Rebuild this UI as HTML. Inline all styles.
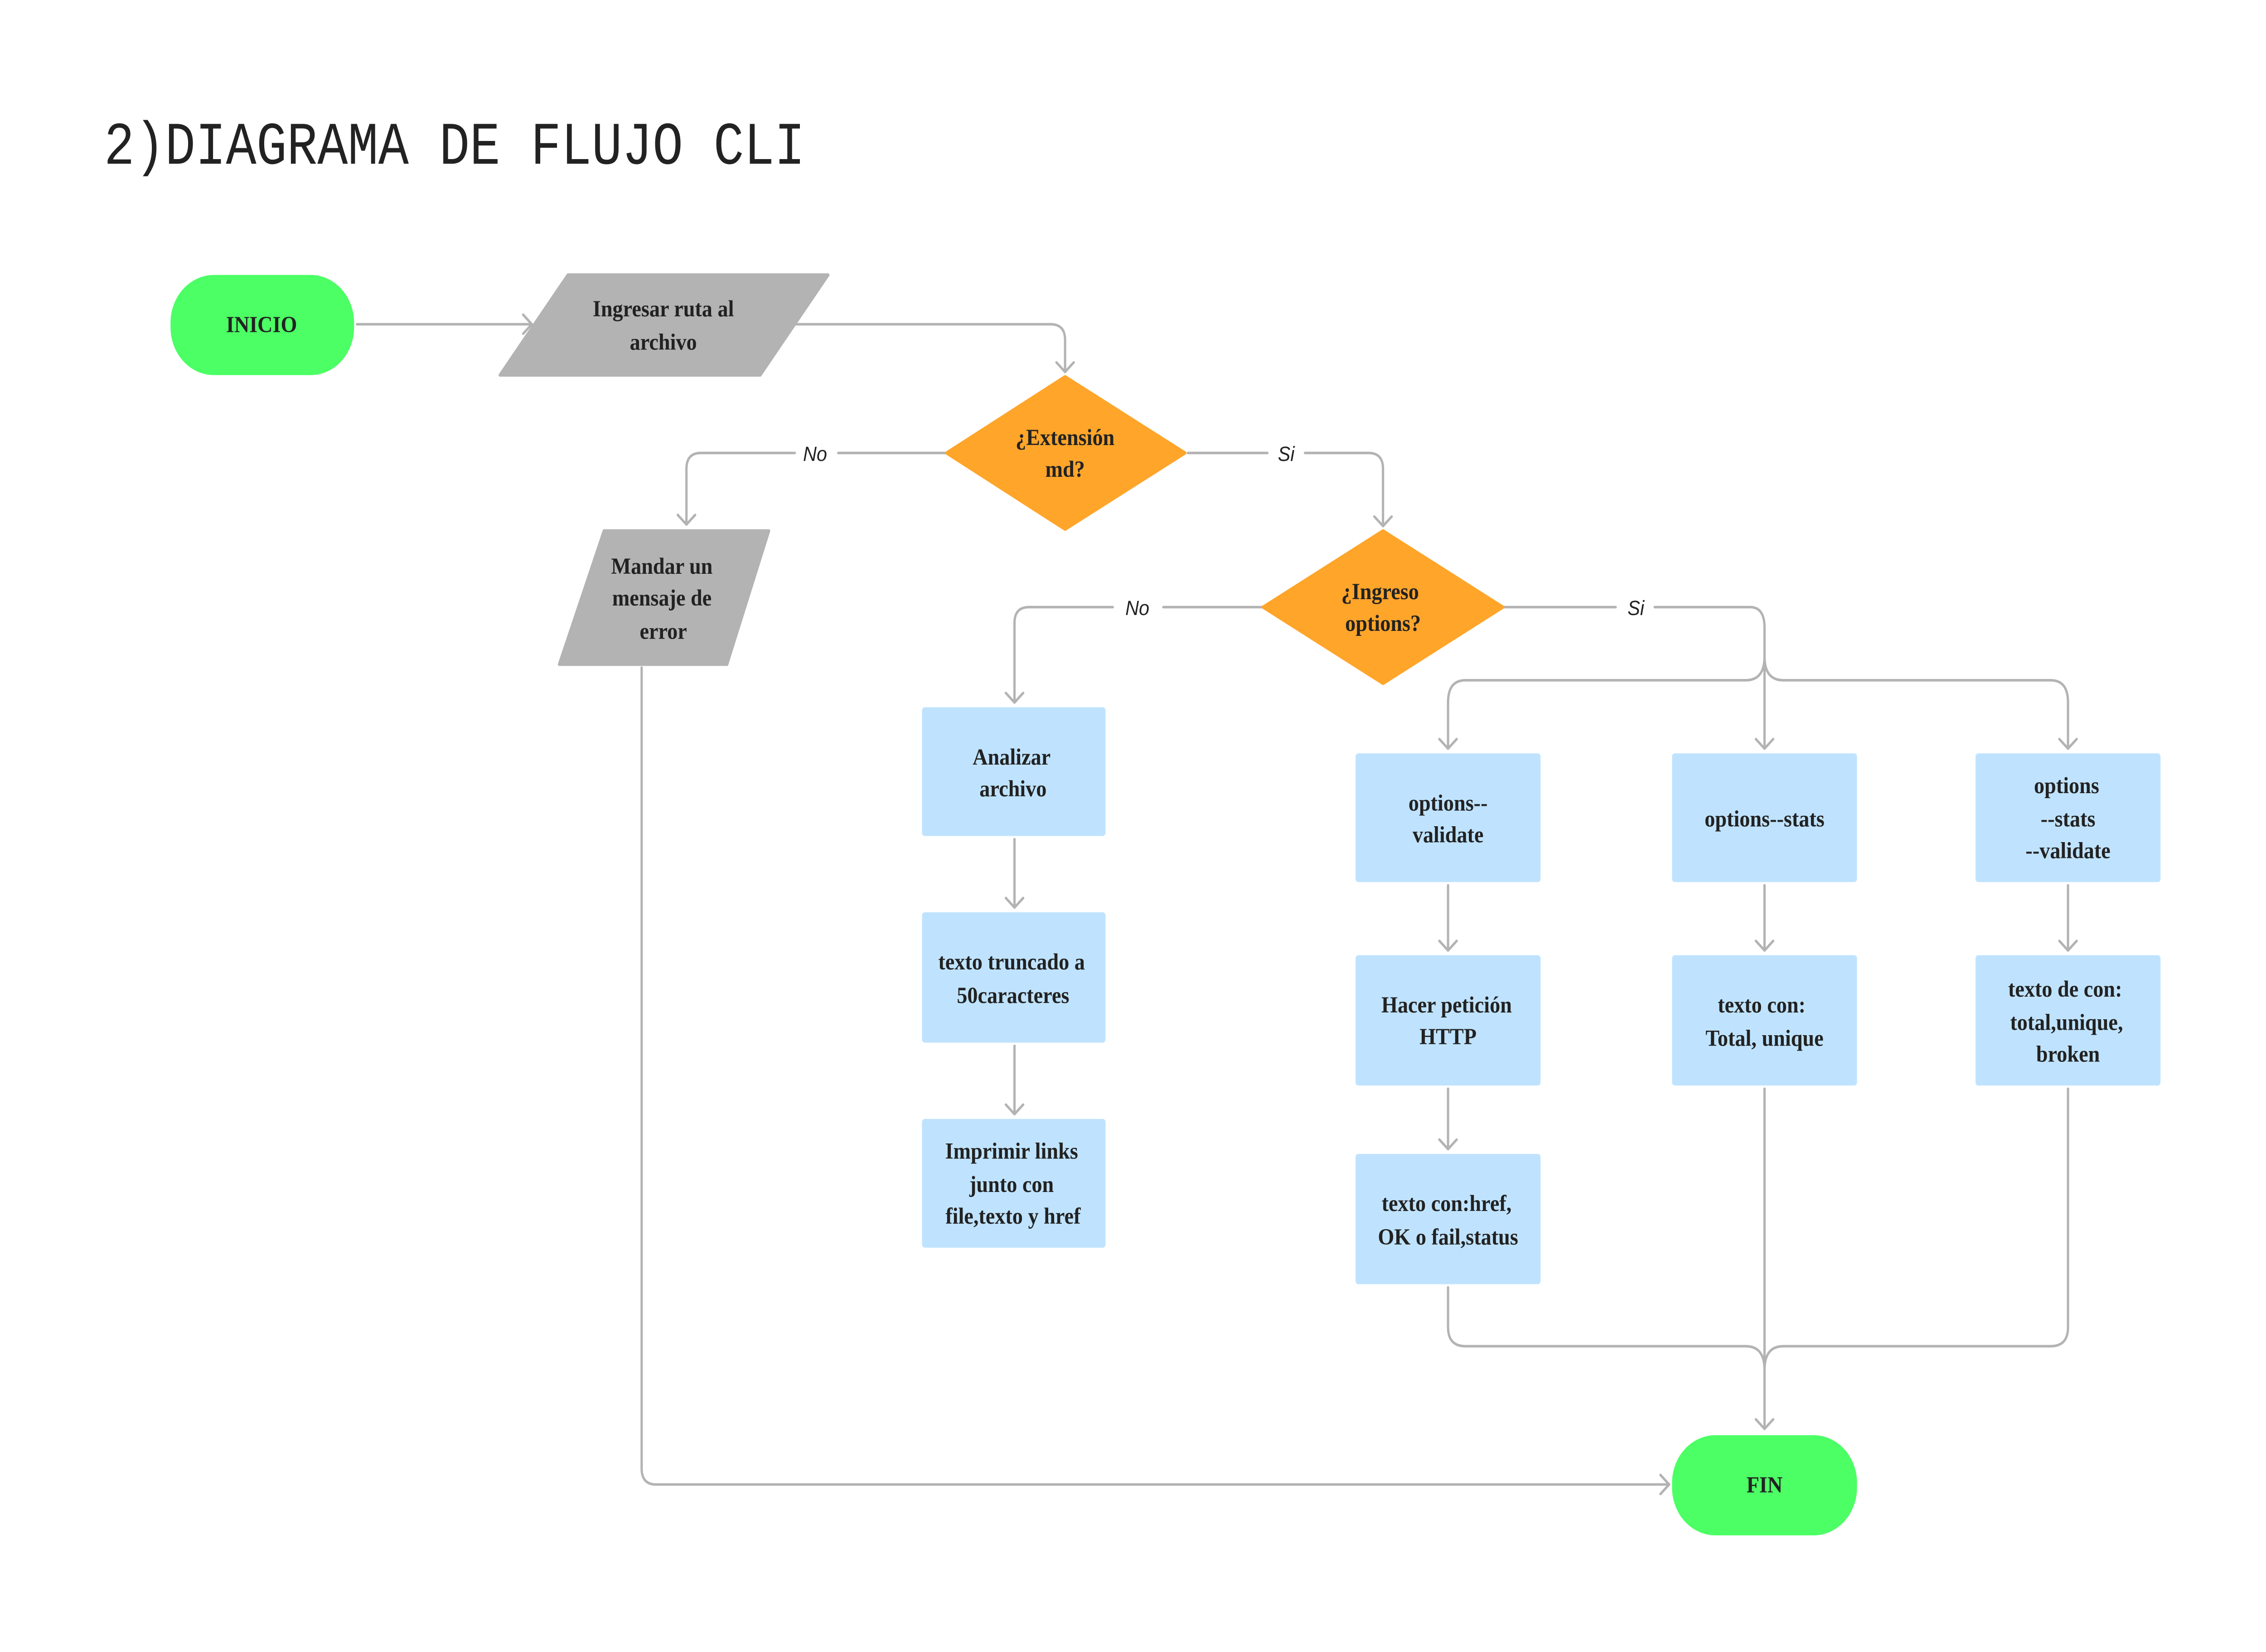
<!DOCTYPE html>
<html><head><meta charset="utf-8"><style>
html,body{margin:0;padding:0;background:#fff;width:100%;height:100%;overflow:hidden;}
svg{display:block;position:fixed;left:0;top:0;width:100vw;height:100vh;}
.t{font-family:"Liberation Serif",serif;font-weight:bold;font-size:14.5px;fill:#222;text-anchor:middle;}
.l{font-family:"Liberation Sans",sans-serif;font-style:italic;font-size:13px;fill:#222;text-anchor:middle;}
.c{fill:none;stroke:#b3b3b3;stroke-width:1.6;stroke-linecap:round;stroke-linejoin:round;}
</style></head><body>
<svg viewBox="0 0 1568 1039.4" preserveAspectRatio="none" xmlns="http://www.w3.org/2000/svg">
<rect width="1568" height="1040" fill="#fff"/>
<text x="72" y="103" font-family="Liberation Mono,monospace" font-size="38" fill="#222" textLength="485" lengthAdjust="spacingAndGlyphs">2)DIAGRAMA DE FLUJO CLI</text>

<g class="c">
<path d="M247 204 H368"/><path d="M362 198 L368 204 L362 210"/>
<path d="M550 204 H727 Q737 204 737 214 V234"/><path d="M731 228 L737 234 L743 228"/>
<path d="M655 285 H580"/><path d="M550 285 H485 Q475 285 475 295 V330"/><path d="M469 324 L475 330 L481 324"/>
<path d="M822 285 H877"/><path d="M903 285 H947 Q957 285 957 295 V331"/><path d="M951 325 L957 331 L963 325"/>
<path d="M874 382 H805"/><path d="M770 382 H712 Q702 382 702 392 V442"/><path d="M696 436 L702 442 L708 436"/>
<path d="M1040 382 H1118"/><path d="M1145 382 H1211 Q1221 382 1221 395 V471"/><path d="M1215 465 L1221 471 L1227 465"/>
<path d="M1221 413 Q1221 428 1208 428 H1014 Q1002 428 1002 442 V471"/><path d="M996 465 L1002 471 L1008 465"/>
<path d="M1221 413 Q1221 428 1234 428 H1419 Q1431 428 1431 442 V471"/><path d="M1425 465 L1431 471 L1437 465"/>
<path d="M702 528 V571"/><path d="M696 565 L702 571 L708 565"/>
<path d="M702 658 V701"/><path d="M696 695 L702 701 L708 695"/>
<path d="M1002 557 V598"/><path d="M996 592 L1002 598 L1008 592"/>
<path d="M1002 685 V723"/><path d="M996 717 L1002 723 L1008 717"/>
<path d="M1221 557 V598"/><path d="M1215 592 L1221 598 L1227 592"/>
<path d="M1431 557 V598"/><path d="M1425 592 L1431 598 L1437 592"/>
<path d="M1002 810 V835 Q1002 847 1014 847 H1208 Q1221 847 1221 862"/>
<path d="M1431 685 V835 Q1431 847 1419 847 H1234 Q1221 847 1221 862"/>
<path d="M1221 685 V899"/><path d="M1215 893 L1221 899 L1227 893"/>
<path d="M444 420 V924 Q444 934 454 934 H1155"/><path d="M1149 928 L1155 934 L1149 940"/>
</g>
<text class="l" x="564" y="290">No</text>
<text class="l" x="890" y="290">Si</text>
<text class="l" x="787" y="387">No</text>
<text class="l" x="1132" y="387">Si</text>

<rect x="118" y="173" width="127" height="63" rx="30" fill="#4bff64"/>
<text class="t" x="181" y="209">INICIO</text>
<polygon points="393,173 573,173 526,236 346,236" fill="#b3b3b3" stroke="#b3b3b3" stroke-width="2" stroke-linejoin="round"/>
<text class="t" x="459" y="199">Ingresar ruta al</text><text class="t" x="459" y="220">archivo</text>
<polygon points="737,237 820,285 737,333 655,285" fill="#ffa52a" stroke="#ffa52a" stroke-width="2" stroke-linejoin="round"/>
<text class="t" x="737" y="280">¿Extensión</text><text class="t" x="737" y="300">md?</text>
<polygon points="418,334 532,334 503,418 387,418" fill="#b3b3b3" stroke="#b3b3b3" stroke-width="2" stroke-linejoin="round"/>
<text class="t" x="458" y="361">Mandar un</text><text class="t" x="458" y="381">mensaje de</text><text class="t" x="459" y="402">error</text>
<polygon points="957,334 1040,382 957,430 874,382" fill="#ffa52a" stroke="#ffa52a" stroke-width="2" stroke-linejoin="round"/>
<text class="t" x="955" y="377">¿Ingreso</text><text class="t" x="957" y="397">options?</text>

<g fill="#bfe3ff">
<rect x="638" y="445" width="127" height="81" rx="2"/>
<rect x="638" y="574" width="127" height="82" rx="2"/>
<rect x="638" y="704" width="127" height="81" rx="2"/>
<rect x="938" y="474" width="128" height="81" rx="2"/>
<rect x="938" y="601" width="128" height="82" rx="2"/>
<rect x="938" y="726" width="128" height="82" rx="2"/>
<rect x="1157" y="474" width="128" height="81" rx="2"/>
<rect x="1157" y="601" width="128" height="82" rx="2"/>
<rect x="1367" y="474" width="128" height="81" rx="2"/>
<rect x="1367" y="601" width="128" height="82" rx="2"/>
</g>
<text class="t" x="700" y="481">Analizar</text><text class="t" x="701" y="501">archivo</text>
<text class="t" x="700" y="610">texto truncado a</text><text class="t" x="701" y="631">50caracteres</text>
<text class="t" x="700" y="729">Imprimir links</text><text class="t" x="700" y="750">junto con</text><text class="t" x="701" y="770">file,texto y href</text>
<text class="t" x="1002" y="510">options--</text><text class="t" x="1002" y="530">validate</text>
<text class="t" x="1221" y="520">options--stats</text>
<text class="t" x="1430" y="499">options</text><text class="t" x="1431" y="520">--stats</text><text class="t" x="1431" y="540">--validate</text>
<text class="t" x="1001" y="637">Hacer petición</text><text class="t" x="1002" y="657">HTTP</text>
<text class="t" x="1219" y="637">texto con:</text><text class="t" x="1221" y="658">Total, unique</text>
<text class="t" x="1429" y="627">texto de con:</text><text class="t" x="1430" y="648">total,unique,</text><text class="t" x="1431" y="668">broken</text>
<text class="t" x="1001" y="762">texto con:href,</text><text class="t" x="1002" y="783">OK o fail,status</text>

<rect x="1157" y="903" width="128" height="63" rx="30" fill="#4bff64"/>
<text class="t" x="1221" y="939">FIN</text>
</svg>
</body></html>
